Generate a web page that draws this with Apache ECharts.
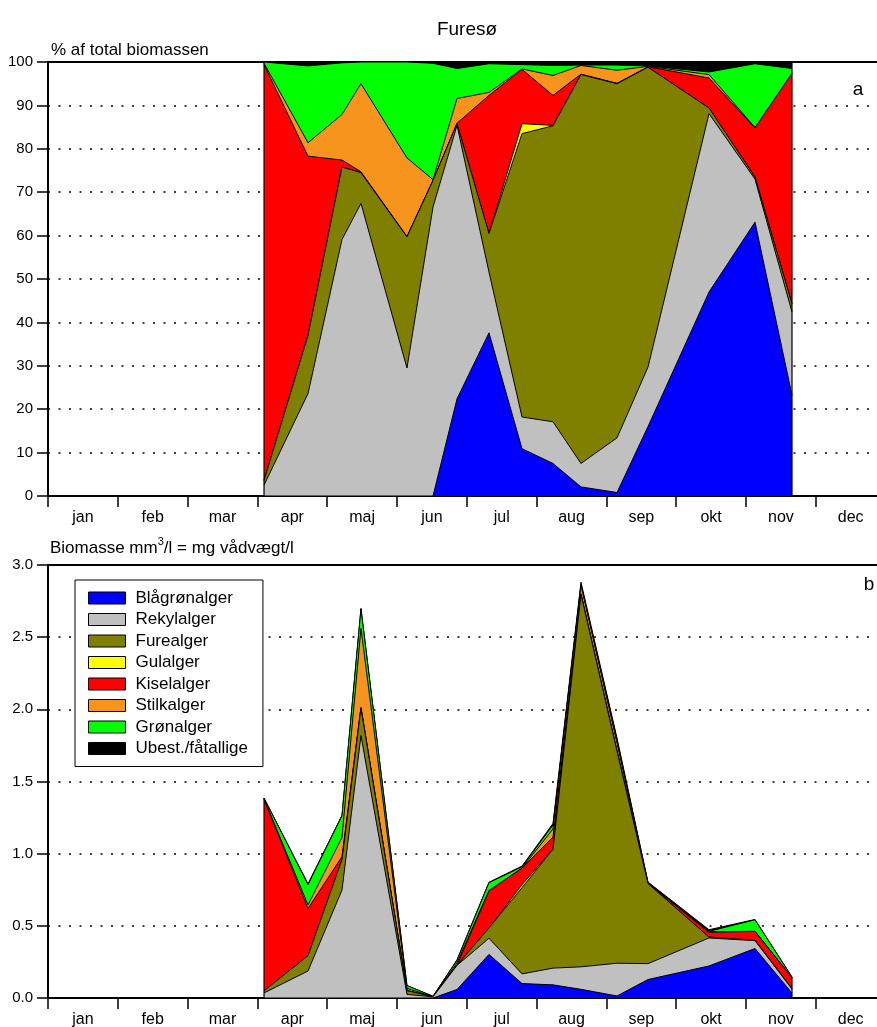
<!DOCTYPE html>
<html>
<head>
<meta charset="utf-8">
<script src="https://cdn.jsdelivr.net/npm/echarts@6/dist/echarts.min.js"></script>
<style>
html,body{margin:0;padding:0;background:#fff;}
#chart{width:877px;height:1027px;}
</style>
</head>
<body>
<div id="chart"></div>
<script>
// Month labels (equal-width month bands, x measured in months from 1 Jan)
const months = ['jan','feb','mar','apr','maj','jun','jul','aug','sep','okt','nov','dec'];
// Sampling dates (fractional month position)
const sampleMonth = [3.095, 3.725, 4.212, 4.484, 5.143, 5.516, 5.860, 6.318, 6.791, 7.235, 7.636, 8.152, 8.596, 9.470, 10.129, 10.659];

// Panel a: % of total biomass
const pctBlaa  = [0, 0, 0, 0, 0, 0, 22.4, 37.6, 10.9, 7.5, 2.1, 0.8, 16.0, 47.0, 63.1, 23.2];
const pctRekyl = [2.5, 23.6, 59.1, 67.4, 29.5, 66.6, 63.0, 14.0, 7.3, 9.6, 5.4, 12.6, 13.7, 41.1, 9.9, 19.2];
const pctFure  = [1.1, 13.4, 16.7, 7.1, 30.2, 6.1, 0.4, 8.9, 65.3, 68.2, 89.6, 81.6, 69.1, 1.3, 0.5, 1.9];
const pctGul   = [0, 0, 0, 0, 0, 0, 0, 0, 2.3, 0.1, 0, 0, 0, 0, 0, 0];
const pctKisel = [95.8, 41.3, 1.6, 0.2, 0.1, 0, 0.1, 31.8, 12.5, 6.9, 0.1, 0.1, 0.1, 6.9, 11.3, 53.0];
const pctStilk = [0.3, 3.1, 10.5, 20.3, 18.1, 0.2, 5.7, 0.7, 0.1, 4.6, 2.0, 3.0, 0.1, 0.8, 0.1, 0.1];
const pctGroen = [0.3, 17.7, 11.9, 5.0, 22.1, 26.8, 6.9, 6.6, 1.0, 2.3, 0.1, 1.2, 0.1, 0.6, 14.7, 1.1];
const pctUbest = [0, 0.9, 0.2, 0, 0, 0.3, 1.5, 0.4, 0.6, 0.8, 0.7, 0.7, 0.9, 2.3, 0.4, 1.5];

// Panel b: biomass mm3/l
const bioBlaa  = [0, 0, 0, 0, 0, 0, 0.059, 0.302, 0.100, 0.091, 0.060, 0.014, 0.128, 0.222, 0.343, 0.034];
const bioRekyl = [0.035, 0.187, 0.748, 1.818, 0.025, 0.008, 0.167, 0.112, 0.067, 0.116, 0.156, 0.227, 0.110, 0.194, 0.054, 0.028];
const bioFure  = [0.015, 0.106, 0.211, 0.191, 0.026, 0.001, 0.001, 0.071, 0.597, 0.824, 2.581, 1.469, 0.555, 0.006, 0.003, 0.003];
const bioGul   = [0, 0, 0, 0, 0, 0, 0, 0, 0.021, 0.001, 0, 0, 0, 0, 0, 0];
const bioKisel = [1.327, 0.327, 0.020, 0.005, 0.001, 0, 0.001, 0.255, 0.114, 0.083, 0.003, 0.002, 0.001, 0.033, 0.061, 0.077];
const bioStilk = [0.004, 0.025, 0.133, 0.547, 0.015, 0, 0.015, 0.006, 0.001, 0.056, 0.058, 0.054, 0.001, 0.004, 0.001, 0];
const bioGroen = [0.004, 0.140, 0.151, 0.135, 0.019, 0.003, 0.018, 0.053, 0.009, 0.028, 0.003, 0.022, 0.001, 0.003, 0.080, 0.002];
const bioUbest = [0, 0.007, 0.003, 0.003, 0, 0, 0.004, 0.003, 0.005, 0.010, 0.020, 0.013, 0.007, 0.011, 0.002, 0.002];

const groupNames  = ['Blågrønalger','Rekylalger','Furealger','Gulalger','Kiselalger','Stilkalger','Grønalger','Ubest./fåtallige'];
const groupColors = ['#0000FF','#C0C0C0','#808000','#FFFF00','#FF0000','#F7941D','#00FF00','#000000'];
const pctSeries = [pctBlaa, pctRekyl, pctFure, pctGul, pctKisel, pctStilk, pctGroen, pctUbest];
const bioSeries = [bioBlaa, bioRekyl, bioFure, bioGul, bioKisel, bioStilk, bioGroen, bioUbest];

const FONT = '"Liberation Sans", Arial, Helvetica, sans-serif';

// cumulative (stacked) tops for each group, bottom-up
function cumulate(list) {
  const out = [];
  list.forEach((arr, k) => {
    out.push(arr.map((v, i) => (k === 0 ? 0 : out[k - 1][i]) + v));
  });
  return out;
}
const pctCum = cumulate(pctSeries);
const bioCum = cumulate(bioSeries);

const chart = echarts.init(document.getElementById('chart'), null, {renderer: 'canvas'});

const dotted = {show: true, lineStyle: {color: '#000', width: 1.5, type: [2, 8.5]}};

function valueX(gridIndex) {
  return {
    type: 'value', gridIndex, min: 0, max: 12, interval: 1, position: 'bottom',
    axisLine: {show: true, lineStyle: {color: '#000', width: 2}},
    axisTick: {show: true, inside: false, length: 11, lineStyle: {color: '#000', width: 1.5}},
    axisLabel: {show: false},
    splitLine: {show: false}
  };
}
function labelX(gridIndex) {
  return {
    type: 'category', gridIndex, data: months, boundaryGap: true, position: 'bottom',
    axisLine: {show: false}, axisTick: {show: false}, splitLine: {show: false},
    axisLabel: {show: true, color: '#000', fontFamily: FONT, fontSize: 16, margin: 14, interval: 0}
  };
}

const series = [];
function addPanel(cum, xIdx, yIdx, total) {
  // draw from the top layer down so each lower layer paints over the one above
  for (let k = groupNames.length - 1; k >= 0; k--) {
    series.push({
      name: groupNames[k], type: 'line', xAxisIndex: xIdx, yAxisIndex: yIdx,
      data: sampleMonth.map((m, i) => [m, cum[k][i]]),
      showSymbol: false, symbol: 'none', smooth: false,
      lineStyle: {color: '#000', width: 1},
      areaStyle: {color: groupColors[k], opacity: 1, origin: 'start'},
      itemStyle: {color: groupColors[k]},
      emphasis: {disabled: true}, animation: false,
      z: 2 + (groupNames.length - k) * 0.01
    });
  }
  // vertical outline at the first and last sample
  const n = sampleMonth.length - 1;
  [0, n].forEach(i => {
    series.push({
      type: 'line', xAxisIndex: xIdx, yAxisIndex: yIdx,
      data: [[sampleMonth[i], 0], [sampleMonth[i], total[i]]],
      showSymbol: false, symbol: 'none',
      lineStyle: {color: '#000', width: 1.2},
      emphasis: {disabled: true}, animation: false, z: 3
    });
  });
}
addPanel(pctCum, 0, 0, pctCum[pctCum.length - 1]);
addPanel(bioCum, 2, 1, bioCum[bioCum.length - 1]);

const option = {
  animation: false,
  backgroundColor: '#fff',
  textStyle: {fontFamily: FONT},
  grid: [
    {left: 48, top: 62, width: 837.6, height: 434, show: true, borderColor: '#000', borderWidth: 2, backgroundColor: 'transparent', containLabel: false, outerBoundsMode: 'none'},
    {left: 48, top: 565, width: 837.6, height: 433, show: true, borderColor: '#000', borderWidth: 2, backgroundColor: 'transparent', containLabel: false, outerBoundsMode: 'none'}
  ],
  xAxis: [valueX(0), labelX(0), valueX(1), labelX(1)],
  yAxis: [
    {
      type: 'value', gridIndex: 0, min: 0, max: 100, interval: 10,
      axisLine: {show: true, lineStyle: {color: '#000', width: 2}},
      axisTick: {show: true, inside: false, length: 11, lineStyle: {color: '#000', width: 1.5}},
      axisLabel: {color: '#000', fontFamily: FONT, fontSize: 15, margin: 15},
      splitLine: dotted
    },
    {
      type: 'value', gridIndex: 1, min: 0, max: 3, interval: 0.5,
      axisLine: {show: true, lineStyle: {color: '#000', width: 2}},
      axisTick: {show: true, inside: false, length: 11, lineStyle: {color: '#000', width: 1.5}},
      axisLabel: {color: '#000', fontFamily: FONT, fontSize: 15, margin: 15, formatter: v => v.toFixed(1)},
      splitLine: dotted
    }
  ],
  legend: {
    show: true, orient: 'vertical', left: 75, top: 580,
    icon: 'rect', itemWidth: 37, itemHeight: 12, itemGap: 3.5,
    padding: [9, 15, 9, 13],
    borderColor: '#000', borderWidth: 1, backgroundColor: '#fff',
    selectedMode: false,
    textStyle: {color: '#000', fontFamily: FONT, fontSize: 17, lineHeight: 18, padding: [0, 0, 0, 5]},
    data: groupNames.map((n, k) => ({name: n, icon: 'rect', itemStyle: {color: groupColors[k], borderColor: '#000', borderWidth: 1}}))
  },
  graphic: [
    {type: 'text', x: 467, y: 30, style: {text: 'Furesø', fontFamily: FONT, fontSize: 19, fill: '#000', align: 'center', verticalAlign: 'middle'}},
    {type: 'text', x: 51, y: 50, style: {text: '% af total biomassen', fontFamily: FONT, fontSize: 17, fill: '#000', align: 'left', verticalAlign: 'middle'}},
    {type: 'text', x: 858, y: 90, style: {text: 'a', fontFamily: FONT, fontSize: 19, fill: '#000', align: 'center', verticalAlign: 'middle'}},
    {type: 'text', x: 869, y: 585, style: {text: 'b', fontFamily: FONT, fontSize: 19, fill: '#000', align: 'center', verticalAlign: 'middle'}},
    {type: 'text', x: 50, y: 548, style: {
      text: '{a|Biomasse mm}{s|3}{a|/l = mg vådvægt/l}',
      verticalAlign: 'middle', align: 'left',
      rich: {
        a: {fontFamily: FONT, fontSize: 17, fill: '#000', lineHeight: 20},
        s: {fontFamily: FONT, fontSize: 11, fill: '#000', lineHeight: 20, padding: [0, 0, 12, 0]}
      }
    }}
  ],
  series
};
chart.setOption(option);
</script>
</body>
</html>
